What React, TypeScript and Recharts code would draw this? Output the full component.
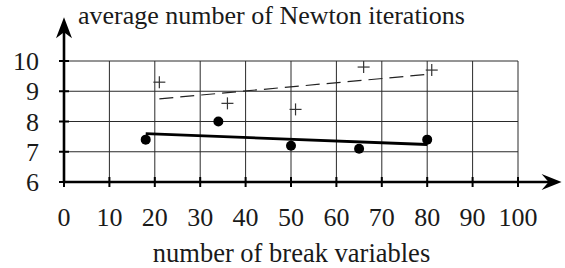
import { ScatterChart, Scatter, XAxis, YAxis, CartesianGrid, ReferenceLine } from 'recharts'

// filled circles: first method
const breakVarsA = [18, 34, 50, 65, 80]
const iterationsA = [7.4, 8.0, 7.2, 7.1, 7.4]
// plus markers: second method
const breakVarsB = [21, 36, 51, 66, 81]
const iterationsB = [9.3, 8.6, 8.4, 9.8, 9.7]
// trend lines (end points)
const fitAX = [18, 80]
const fitAY = [7.6, 7.24]
const fitBX = [21, 81]
const fitBY = [8.75, 9.57]

const xTicks = [0, 10, 20, 30, 40, 50, 60, 70, 80, 90, 100]
const yTicks = [6, 7, 8, 9, 10]

const yTitle = 'average number of Newton iterations'
const xTitle = 'number of break variables'

const zip = (xs: number[], ys: number[]) => xs.map((x, i) => ({ x, y: ys[i] }))

const pointsA = zip(breakVarsA, iterationsA)
const pointsB = zip(breakVarsB, iterationsB)
const fitA = zip(fitAX, fitAY)
const fitB = zip(fitBX, fitBY)

const FONT = '"Liberation Serif", "Times New Roman", serif'
const INK = '#1a1a1a'

function XTick(props: any) {
  const { x, y, payload } = props
  return (
    <g>
      <line x1={x} y1={y - 5} x2={x} y2={y + 5} stroke="#000" strokeWidth={2} />
      <text x={x} y={y + 44} textAnchor="middle" fontSize={26} fontFamily={FONT} fill={INK}>
        {payload.value}
      </text>
    </g>
  )
}

function YTick(props: any) {
  const { x, y, payload } = props
  return (
    <g>
      <line x1={x - 5} y1={y} x2={x + 5} y2={y} stroke="#000" strokeWidth={2} />
      <text x={x - 25} y={y + 9} textAnchor="end" fontSize={26} fontFamily={FONT} fill={INK}>
        {payload.value}
      </text>
    </g>
  )
}

const Dot = (props: any) => <circle cx={props.cx} cy={props.cy} r={5} fill="#000" />

const Plus = (props: any) => (
  <g stroke="#333" strokeWidth={1.2}>
    <line x1={props.cx - 6} y1={props.cy} x2={props.cx + 6} y2={props.cy} />
    <line x1={props.cx} y1={props.cy - 6} x2={props.cx} y2={props.cy + 6} />
  </g>
)

const NoMark = () => <g />

const XArrow = (props: any) => {
  const { x1, y1, x2 } = props
  return (
    <g>
      <line x1={x1} y1={y1} x2={x2 - 12} y2={y1} stroke="#000" strokeWidth={2.6} />
      <polygon
        points={`${x2},${y1} ${x2 - 20},${y1 - 8} ${x2 - 13},${y1} ${x2 - 20},${y1 + 8}`}
        fill="#000"
      />
    </g>
  )
}

const YArrow = (props: any) => {
  const { x1, y1, y2 } = props
  return (
    <g>
      <line x1={x1} y1={y1} x2={x1} y2={y2 + 12} stroke="#000" strokeWidth={2.6} />
      <polygon
        points={`${x1},${y2} ${x1 - 8},${y2 + 21} ${x1},${y2 + 15} ${x1 + 8},${y2 + 21}`}
        fill="#000"
      />
    </g>
  )
}

export default function App() {
  return (
    <div style={{ position: 'absolute', left: 0, top: 0, width: 565, height: 268, background: '#fff' }}>
      <ScatterChart width={565} height={268} margin={{ top: 61, right: 47, bottom: 0, left: 0 }}>
        <CartesianGrid stroke="#2a2a2a" strokeWidth={1} />
        <XAxis
          type="number"
          dataKey="x"
          domain={[0, 100]}
          ticks={xTicks}
          interval={0}
          height={86}
          axisLine={false}
          tickLine={false}
          tickSize={0}
          tickMargin={0}
          tick={XTick}
        />
        <YAxis
          type="number"
          dataKey="y"
          domain={[6, 10]}
          ticks={yTicks}
          interval={0}
          width={64}
          axisLine={false}
          tickLine={false}
          tickSize={0}
          tickMargin={0}
          tick={YTick}
        />
        <Scatter
          data={fitB}
          shape={NoMark}
          line={{ stroke: '#222', strokeWidth: 1.2, strokeDasharray: '14 7' }}
          isAnimationActive={false}
        />
        <Scatter
          data={fitA}
          shape={NoMark}
          line={{ stroke: '#000', strokeWidth: 2.8 }}
          isAnimationActive={false}
        />
        <Scatter data={pointsB} shape={Plus} isAnimationActive={false} />
        <Scatter data={pointsA} shape={Dot} isAnimationActive={false} />
        <ReferenceLine
          segment={[{ x: 0, y: 6 }, { x: 109.6, y: 6 }]}
          ifOverflow="visible"
          shape={XArrow}
        />
        <ReferenceLine
          segment={[{ x: 0, y: 6 }, { x: 0, y: 11.45 }]}
          ifOverflow="visible"
          shape={YArrow}
        />
      </ScatterChart>
      <svg
        width={565}
        height={268}
        style={{ position: 'absolute', left: 0, top: 0, pointerEvents: 'none' }}
      >
        <text x={78} y={23.5} fontSize={26} fontFamily={FONT} fill={INK}>
          {yTitle}
        </text>
        <text x={291.5} y={262} textAnchor="middle" fontSize={26.5} fontFamily={FONT} fill={INK}>
          {xTitle}
        </text>
      </svg>
    </div>
  )
}
